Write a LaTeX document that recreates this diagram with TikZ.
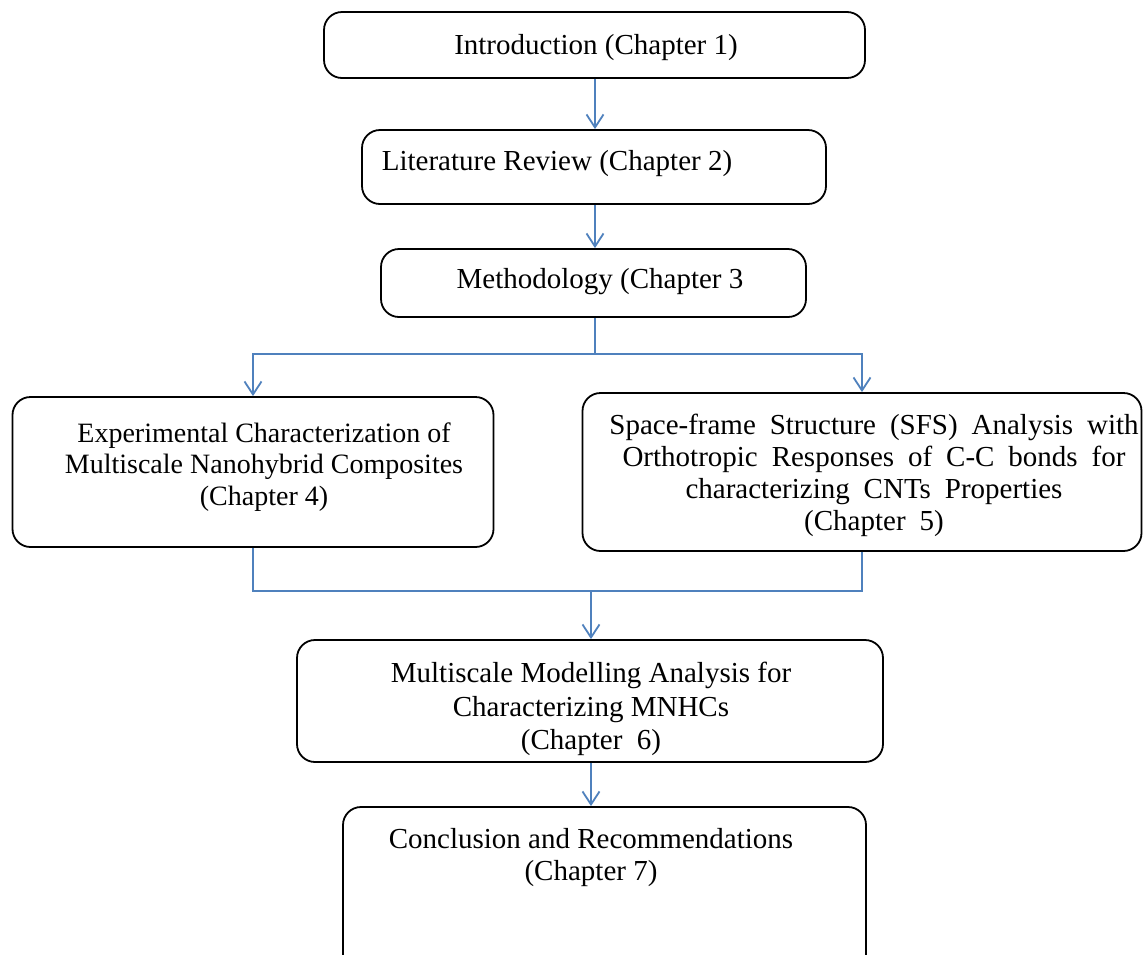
\documentclass[tikz,border=0pt]{standalone}
\usepackage{fontspec}
\setmainfont{Liberation Serif}
\usetikzlibrary{arrows.meta}
\definecolor{linkblue}{RGB}{79,129,189}
\newcommand{\widesp}{\spaceskip=0.48em\relax}
\tikzset{
  box/.style={draw=black, line width=1.8pt, rounded corners=18pt, inner sep=0pt, fill=none},
  lbl/.style={align=center, inner sep=0pt, font=\fontsize{29}{32}\selectfont},
  link/.style={draw=linkblue, line width=1.8pt, -{Straight Barb[length=13pt,width=17pt,line width=1.8pt]}},
  joint/.style={draw=linkblue, line width=1.8pt}
}
\begin{document}
\begin{tikzpicture}[x=1pt,y=-1pt]
\clip (0,0) rectangle (1143,954);
\fill[white] (0,0) rectangle (1143,954);
% boxes
\node[box, minimum width=541pt, minimum height=66pt] (intro) at (594.5,45) {};
\node[box, minimum width=464pt, minimum height=74pt] (lit) at (594,167) {};
\node[box, minimum width=425pt, minimum height=68pt] (meth) at (593.5,283) {};
\node[box, minimum width=481pt, minimum height=150pt] (exp) at (253,472) {};
\node[box, minimum width=559pt, minimum height=158pt] (sfs) at (862,472) {};
\node[box, minimum width=586pt, minimum height=122pt] (multi) at (590,701) {};
\node[box, minimum width=523pt, minimum height=190pt] (concl) at (604.5,902) {};
% texts
\node[lbl] (tintro) at (596,48) {Introduction (Chapter 1)};
\node[lbl] (tlit) at (557,164) {Literature Review (Chapter 2)};
\node[lbl] (tmeth) at (600,282) {Methodology (Chapter 3};
\node[lbl, font=\fontsize{28}{31.5}\selectfont] (texp) at (264,467) {Experimental Characterization of\\Multiscale Nanohybrid Composites\\(Chapter 4)};
\node[lbl, font=\fontsize{29}{32}\selectfont\widesp] (tsfs) at (874,475) {Space-frame Structure (SFS) Analysis with\\Orthotropic Responses of C-C bonds for\\characterizing CNTs Properties\\(Chapter 5)};
\node[lbl, font=\fontsize{29}{33.5}\selectfont] (tmulti) at (591,709) {Multiscale Modelling Analysis for\\Characterizing MNHCs\\(Chapter~~6)};
\node[lbl] (tconcl) at (591,858) {Conclusion and Recommendations\\(Chapter 7)};
% connectors
\coordinate (split) at (595,354);
\coordinate (merge) at (591,591);
\draw[link] (intro.south -| 595,0) -- (lit.north -| 595,0);
\draw[link] (lit.south -| 595,0) -- (meth.north -| 595,0);
\draw[joint] (meth.south -| 595,0) -- (split);
\draw[link] (split) -| (exp.north);
\draw[link] (split) -| (sfs.north);
\draw[joint] (exp.south) |- (merge);
\draw[joint] (sfs.south) |- (merge);
\draw[link] (merge) -- (multi.north -| merge);
\draw[link] (multi.south -| merge) -- (concl.north -| merge);
\end{tikzpicture}
\end{document}
